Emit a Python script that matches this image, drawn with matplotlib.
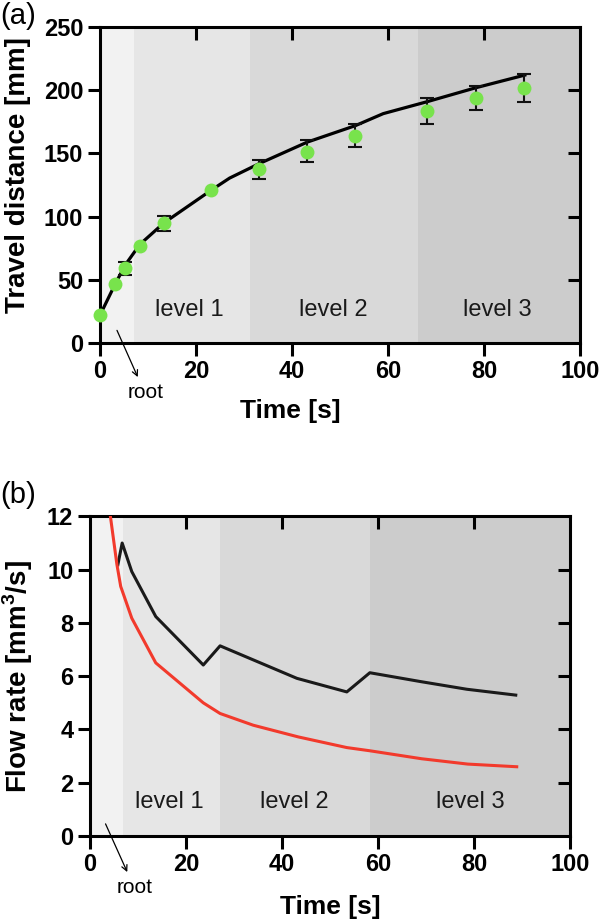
import numpy as np
import matplotlib
matplotlib.use('Agg')
import matplotlib.pyplot as plt

plt.rcParams['font.family'] = ['Liberation Sans', 'DejaVu Sans']
plt.rcParams['mathtext.fontset'] = 'custom'
plt.rcParams['mathtext.bf'] = 'Liberation Sans:bold'
plt.rcParams['mathtext.rm'] = 'Liberation Sans:bold'

# --- (a) travel distance ---
t_pts = [0, 3.2, 5.3, 8.3, 13.3, 23.2, 33.2, 43.2, 53.2, 68.2, 78.3, 88.3]
d_pts = [22, 46.5, 59, 77, 95, 121, 137.5, 151, 164, 183.5, 193.5, 202]
err_t = [5.3, 13.3, 33.2, 43.2, 53.2, 68.2, 78.3, 88.3]
err_lo = [53.5, 89, 130, 143, 155, 173, 184.5, 191]
err_hi = [64, 100.5, 145, 160.5, 173, 193.5, 203, 213]

fit_t = [0, 3.2, 5.3, 8.3, 13.3, 23.2, 27, 33.2, 43.2, 53.2, 59, 68.2, 78.3, 88.5]
fit_d = [22, 47, 62, 78, 95, 121, 130.5, 142, 159, 172, 181.5, 191, 202, 212]

regions_a = [0, 7, 31.2, 66.3, 100]

# --- (b) flow rate ---
red_t = [4.2, 5.6, 6.4, 8.7, 13.7, 23.6, 27.1, 34, 43.4, 53.5, 58.3, 69.1, 78.7, 88.9]
red_q = [12.07, 10.2, 9.37, 8.18, 6.5, 5.0, 4.6, 4.16, 3.72, 3.32, 3.2, 2.9, 2.7, 2.6]
blk_t = [5.8, 6.7, 8.7, 13.7, 23.6, 27.1, 43.1, 53.5, 58.3, 68.8, 78.5, 88.7]
blk_q = [10.18, 11.0, 9.93, 8.24, 6.42, 7.14, 5.92, 5.41, 6.13, 5.8, 5.51, 5.29]

regions_b = [0, 6.8, 27, 58.4, 100]

shades = ['#f2f2f2', '#e6e6e6', '#d9d9d9', '#cccccc']
levels = ['level 1', 'level 2', 'level 3']

fig = plt.figure(figsize=(6, 9.21), dpi=100)
ax1 = fig.add_axes([0.1667, 0.6276, 0.8, 0.343])
ax2 = fig.add_axes([0.15, 0.0923, 0.8, 0.347])


def style(ax, xt, yt):
    for s in ax.spines.values():
        s.set_linewidth(2.2)
    ax.set_xticks(xt)
    ax.set_yticks(yt)
    ax.tick_params(direction='out', length=9, width=2.2, labelsize=17, pad=3)
    for lab in ax.get_xticklabels() + ax.get_yticklabels():
        lab.set_fontweight('bold')
    top = ax.secondary_xaxis('top')
    top.set_xticks(xt[1:-1])
    top.tick_params(direction='in', length=9, width=2.2, labeltop=False)
    right = ax.secondary_yaxis('right')
    right.set_yticks(yt[1:-1])
    right.tick_params(direction='in', length=9, width=2.2, labelright=False)


# panel a
for i in range(4):
    ax1.axvspan(regions_a[i], regions_a[i + 1], color=shades[i], lw=0, zorder=0)
ax1.plot(fit_t, fit_d, color='black', lw=2.3, zorder=2)
err_mid = [(lo + hi) / 2 for lo, hi in zip(err_lo, err_hi)]
err_half = [(hi - lo) / 2 for lo, hi in zip(err_lo, err_hi)]
ax1.errorbar(err_t, err_mid, yerr=err_half, fmt='none', ecolor='#111111',
             elinewidth=1.5, capsize=5, capthick=1.5, zorder=3)
ax1.plot(t_pts, d_pts, 'o', color='#78e34c', ms=10, mec='none', zorder=4, clip_on=False)
ax1.set_xlim(0, 100)
ax1.set_ylim(0, 250)
style(ax1, [0, 20, 40, 60, 80, 100], [0, 50, 100, 150, 200, 250])
for lab, x in zip(levels, [18.7, 48.5, 82.8]):
    ax1.text(x, 26, lab, fontsize=17, ha='center', va='center', color='#1a1a1a')
ax1.annotate('', xy=(8.1, -29), xytext=(3.3, 12), annotation_clip=False,
             arrowprops=dict(arrowstyle='->', color='black', lw=0.9))
ax1.text(9.5, -39.5, 'root', fontsize=15, ha='center', va='center', clip_on=False)
ax1.set_xlabel('Time [s]', fontsize=19, fontweight='bold', va='center')
ax1.xaxis.set_label_coords(0.396, -0.215)
ax1.set_ylabel('Travel distance [mm]', fontsize=20, fontweight='bold', va='center')
ax1.yaxis.set_label_coords(-0.171, 0.53)
fig.text(0.0, 0.998, '(a)', fontsize=21, ha='left', va='top')

# panel b
for i in range(4):
    ax2.axvspan(regions_b[i], regions_b[i + 1], color=shades[i], lw=0, zorder=0)
ax2.plot(blk_t, blk_q, color='#1a1a1a', lw=2.2, zorder=3)
ax2.plot(red_t, red_q, color='#f23a2c', lw=2.2, zorder=3, clip_on=True)
ax2.set_xlim(0, 100)
ax2.set_ylim(0, 12)
style(ax2, [0, 20, 40, 60, 80, 100], [0, 2, 4, 6, 8, 10, 12])
for lab, x in zip(levels, [16.6, 42.5, 79.3]):
    ax2.text(x, 1.28, lab, fontsize=17, ha='center', va='center', color='#1a1a1a')
ax2.annotate('', xy=(8.0, -1.45), xytext=(3.0, 0.55), annotation_clip=False,
             arrowprops=dict(arrowstyle='->', color='black', lw=0.9))
ax2.text(9.35, -1.92, 'root', fontsize=15, ha='center', va='center', clip_on=False)
ax2.set_xlabel('Time [s]', fontsize=19, fontweight='bold', va='center')
ax2.xaxis.set_label_coords(0.5, -0.222)
ax2.set_ylabel(r'Flow rate [mm$^{\mathbf{3}}$/s]', fontsize=20, fontweight='bold', va='center')
ax2.yaxis.set_label_coords(-0.15, 0.5)
fig.text(0.0, 0.478, '(b)', fontsize=21, ha='left', va='top')

fig.savefig('out.png', dpi=100)
